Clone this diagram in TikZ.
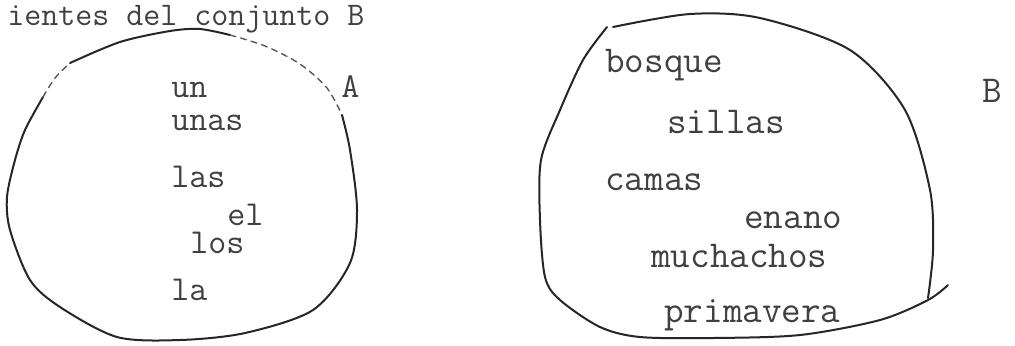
\documentclass[tikz,border=0pt]{standalone}
\usepackage{fontspec}
\usepackage{tikz}
\usetikzlibrary{positioning}
\tikzset{
  word/.style={
    anchor=base west, inner sep=0pt,
    font=\ttfamily\fontsize{17.5}{20}\selectfont,
    text=black!75
  },
  wordr/.style={word, font=\ttfamily\fontsize{19}{22}\selectfont},
  heads/.style={word, font=\ttfamily\fontsize{16.5}{20}\selectfont},
  setl/.style={line width=1pt, black!85, line cap=round, line join=round},
  setd/.style={setl, line width=0.7pt, black!65, dash pattern=on 3pt off 2.5pt}
}

\begin{document}
\begin{tikzpicture}[x=0.5pt, y=-0.5pt]

  \useasboundingbox (0,0) rectangle (1015,345);

  \node[heads] (head) at (7,25) {ientes del conjunto B};

  \node[word] (un)   at (171,97)  {un};
  \node[word] (unas) at (171,130) {unas};
  \node[word] (las)  at (171,187) {las};
  \node[word] (el)   at (227,225) {el};
  \node[word] (los)  at (190,253) {los};
  \node[word] (la)   at (171,300) {la};
  \node[word] (lblA) at (341,97)  {A};

  \node[wordr] (bosque) at (605,72)  {bosque};
  \node[wordr] (sillas) at (667,133) {sillas};
  \node[wordr] (camas)  at (605,190) {camas};
  \node[wordr] (enano)  at (744,228) {enano};
  \node[wordr] (much)   at (651,267) {muchachos};
  \node[wordr] (prim)   at (664,322) {primavera};
  \node[wordr] (lblB)   at (982,102) {B};

  \draw[setl] plot[smooth] coordinates
        {(70,63) (120,42) (170,31) (200,29) (230,35)};
  \draw[setd] plot[smooth] coordinates
        {(230,35) (265,46) (300,64) (327,88) (342,115)};
  \draw[setl] plot[smooth] coordinates
        {(342,115) (350,150) (357,210) (350,263) (313,310) (245,333) (180,340)
         (117,337) (60,307) (30,280) (10,230) (7,197) (15,160) (25,130) (43,97)};
  \draw[setd] plot[smooth] coordinates {(43,97) (55,78) (70,63)};

  \draw[setl] plot[smooth] coordinates
        {(613,27) (690,14) (760,18) (850,50) (905,110) (930,190) (933,250) (928,298)};
  \draw[setl] plot[smooth] coordinates
        {(948,285) (928,300) (880,320) (800,335) (713,338) (640,337) (600,327)
         (560,300) (545,277) (540,220) (541,160) (560,110) (583,60) (607,27)};

\end{tikzpicture}
\end{document}
